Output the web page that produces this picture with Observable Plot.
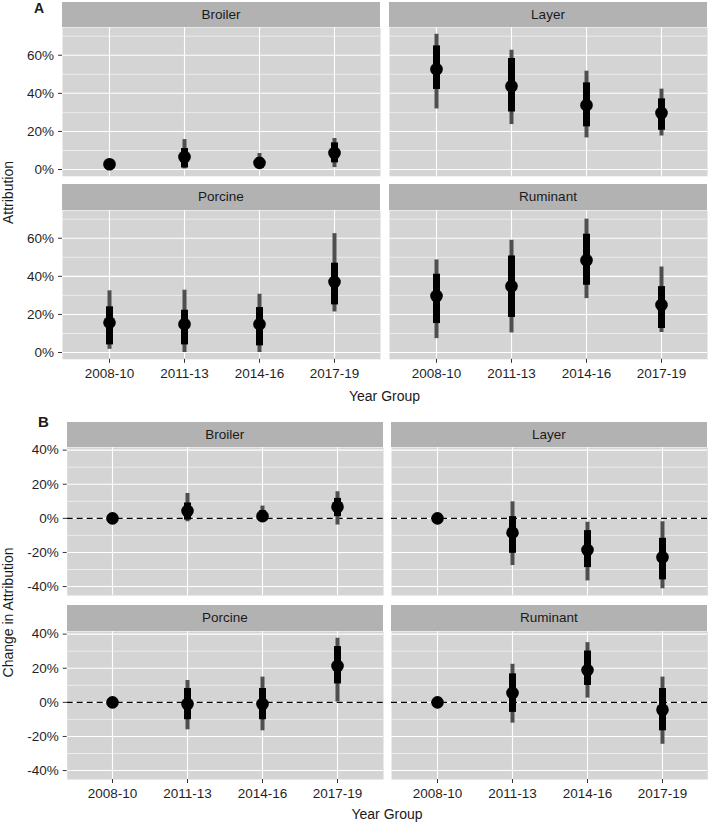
<!DOCTYPE html>
<html><head><meta charset="utf-8">
<script src="https://cdn.jsdelivr.net/npm/d3@7"></script>
<script src="https://cdn.jsdelivr.net/npm/@observablehq/plot@0.6"></script>
<style>
html,body{margin:0;padding:0;background:#fff;}
#root{position:relative;width:708px;height:824px;overflow:hidden;font-family:"Liberation Sans",Arial,sans-serif;}
.strip{position:absolute;background:#b2b2b2;color:#1a1a1a;font-size:13.5px;display:flex;align-items:center;justify-content:center;}
.plot{position:absolute;}
#overlay{position:absolute;left:0;top:0;pointer-events:none;}
</style></head>
<body><div id="root"></div>
<script>
// ---------- data ----------
const years = ["2008-10", "2011-13", "2014-16", "2017-19"];
const groups = ["Broiler", "Layer", "Porcine", "Ruminant"];

// Panel A: Attribution (%), rows follow `groups`
const attrEst  = [[2.8, 6.6, 3.5, 8.7], [52.6, 43.7, 33.8, 29.7], [15.7, 14.9, 14.9, 37.1], [29.7, 34.8, 48.4, 25.0]];
const attrLo95 = [[1.0, 0.3, 0.8, 1.0], [31.8, 23.6, 16.6, 17.6], [1.7, 0.0, 0.0, 21.3], [7.3, 10.3, 28.3, 10.5]];
const attrHi95 = [[5.0, 15.7, 8.4, 16.3], [71.0, 62.6, 51.6, 42.2], [32.4, 32.7, 30.6, 62.4], [48.6, 58.9, 70.0, 44.9]];
const attrLo66 = [[1.8, 0.8, 1.5, 3.5], [42.0, 30.2, 22.4, 20.6], [4.0, 4.0, 3.5, 25.0], [15.2, 18.4, 35.3, 12.6]];
const attrHi66 = [[3.8, 11.0, 6.0, 14.0], [64.9, 58.3, 45.5, 37.1], [24.0, 22.2, 23.6, 46.9], [41.1, 50.7, 62.1, 34.6]];

// Panel B: Change in Attribution (%), relative to 2008-10
const chgEst  = [[0, 4.4, 1.3, 6.8], [0, -8.4, -18.5, -22.8], [0, -1.0, -1.0, 21.3], [0, 5.5, 18.9, -4.3]];
const chgLo95 = [[0, -2.0, -1.0, -3.9], [0, -27.7, -36.7, -41.3], [0, -16.1, -16.7, 0.2], [0, -12.2, 2.5, -24.6]];
const chgHi95 = [[0, 14.6, 7.2, 15.6], [0, 9.7, -2.3, -2.0], [0, 12.8, 14.8, 37.6], [0, 22.3, 35.0, 14.8]];
const chgLo66 = [[0, -1.0, 0.0, 1.0], [0, -20.5, -28.9, -36.1], [0, -10.2, -10.2, 10.8], [0, -5.9, 9.9, -16.7]];
const chgHi66 = [[0, 9.0, 4.5, 11.7], [0, 1.0, -7.2, -11.7], [0, 8.1, 8.1, 32.7], [0, 16.7, 30.1, 8.1]];

const attrTicks = [0, 20, 40, 60];
const attrMinor = [10, 30, 50, 70];
const chgTicks = [-40, -20, 0, 20, 40];
const chgMinor = [-30, -10, 10, 30];

// ---------- helpers ----------
function rows(est, lo95, hi95, lo66, hi66, g) {
  return years.map((y, i) => ({year: y, est: est[g][i], lo95: lo95[g][i], hi95: hi95[g][i], lo66: lo66[g][i], hi66: hi66[g][i]}));
}
function expandDomain(lo95, hi95) {
  const all = lo95.flat().concat(hi95.flat());
  const mn = d3.min(all), mx = d3.max(all), pad = (mx - mn) * 0.05;
  return [mn - pad, mx + pad];
}
const root = document.getElementById("root");
const FONT = "'Liberation Sans', Arial, sans-serif";

function panel(o) {
  const marks = [
    Plot.frame({fill: "#d4d4d4", stroke: "none"}),
    Plot.ruleY(o.minor.filter(v => v >= o.domain[0] && v <= o.domain[1]), {stroke: "white", strokeWidth: 0.55}),
    Plot.ruleY(o.major, {stroke: "white", strokeWidth: 1.1}),
    Plot.ruleX(years, {stroke: "white", strokeWidth: 1.1})
  ];
  if (o.zero) marks.push(Plot.ruleY([0], {stroke: "black", strokeWidth: 1.3, strokeDasharray: "6,4"}));
  marks.push(
    Plot.ruleX(o.data, {x: "year", y1: "lo95", y2: "hi95", stroke: "#4f4f4f", strokeWidth: 4}),
    Plot.ruleX(o.data, {x: "year", y1: "lo66", y2: "hi66", stroke: "black", strokeWidth: 7}),
    Plot.dot(o.data, {x: "year", y: "est", r: 6.3, fill: "black", stroke: "none"})
  );
  if (o.showY) marks.push(Plot.axisY(o.major, {tickSize: 4, tickPadding: 4.5, stroke: "#333", fill: "#1f1f1f", fontSize: 13.5, tickFormat: d => d + "%", label: null}));
  if (o.showX) marks.push(Plot.axisX({tickSize: 4, tickPadding: 5, stroke: "#333", fill: "#1f1f1f", fontSize: 13.5, label: null}));
  const mLeft = o.showY ? o.left : 0;
  const mBottom = o.showX ? 30 : 0;
  const svg = Plot.plot({
    width: mLeft + o.width,
    height: o.height + mBottom,
    marginLeft: mLeft, marginRight: 0, marginTop: 0, marginBottom: mBottom,
    style: {fontFamily: FONT, fontSize: "13.5px", background: "transparent", overflow: "visible"},
    x: {type: "point", domain: years, padding: 0.6, axis: null},
    y: {domain: o.domain, axis: null},
    marks
  });
  svg.querySelectorAll("text").forEach(t => {
    t.style.fontSize = "13.5px";
    t.style.fontFamily = FONT;
  });
  svg.querySelectorAll("g").forEach(g => { g.removeAttribute("font-size"); });
  svg.classList.add("plot");
  svg.style.left = (o.left - mLeft) + "px";
  svg.style.top = o.top + "px";
  root.appendChild(svg);
  const strip = document.createElement("div");
  strip.className = "strip";
  strip.style.left = o.left + "px";
  strip.style.top = (o.top - o.stripH) + "px";
  strip.style.width = o.width + "px";
  strip.style.height = o.stripH + "px";
  strip.textContent = o.title;
  root.appendChild(strip);
}

// ---------- layout ----------
const sections = [
  {est: attrEst, lo95: attrLo95, hi95: attrHi95, lo66: attrLo66, hi66: attrHi66, major: attrTicks, minor: attrMinor,
   cols: [62, 389], width: 318, tops: [27.3, 209.7], height: 148.8, stripH: 25.5, zero: false},
  {est: chgEst, lo95: chgLo95, hi95: chgHi95, lo66: chgLo66, hi66: chgHi66, major: chgTicks, minor: chgMinor,
   cols: [66.7, 390.7], width: 316.3, tops: [447, 630.5], height: 148, stripH: 25.5, zero: true}
];
sections.forEach(s => {
  const domain = expandDomain(s.lo95, s.hi95);
  groups.forEach((g, gi) => {
    const r = Math.floor(gi / 2), c = gi % 2;
    panel({
      data: rows(s.est, s.lo95, s.hi95, s.lo66, s.hi66, gi),
      domain, major: s.major, minor: s.minor, zero: s.zero,
      left: s.cols[c], width: s.width, top: s.tops[r], height: s.height, stripH: s.stripH,
      showY: c === 0, showX: r === 1, title: g
    });
  });
});

// ---------- titles ----------
const ns = "http://www.w3.org/2000/svg";
const ov = document.createElementNS(ns, "svg");
ov.setAttribute("id", "overlay");
ov.setAttribute("width", 708); ov.setAttribute("height", 824);
function txt(str, x, y, opts = {}) {
  const t = document.createElementNS(ns, "text");
  t.setAttribute("x", x); t.setAttribute("y", y);
  t.setAttribute("font-family", FONT);
  t.setAttribute("font-size", opts.size || 14);
  t.setAttribute("fill", "#1a1a1a");
  if (opts.bold) t.setAttribute("font-weight", "bold");
  if (opts.anchor) t.setAttribute("text-anchor", opts.anchor);
  if (opts.rotate) t.setAttribute("transform", `rotate(-90 ${x} ${y})`);
  t.textContent = str;
  ov.appendChild(t);
}
txt("A", 34, 13, {size: 14, bold: true});
txt("B", 38, 426.5, {size: 15, bold: true});
txt("Year Group", 384.5, 400.5, {anchor: "middle"});
txt("Year Group", 387, 819, {anchor: "middle"});
txt("Attribution", 12.5, 192.5, {anchor: "middle", rotate: true});
txt("Change in Attribution", 12.5, 612.5, {anchor: "middle", rotate: true});
root.appendChild(ov);
</script>
</body></html>
